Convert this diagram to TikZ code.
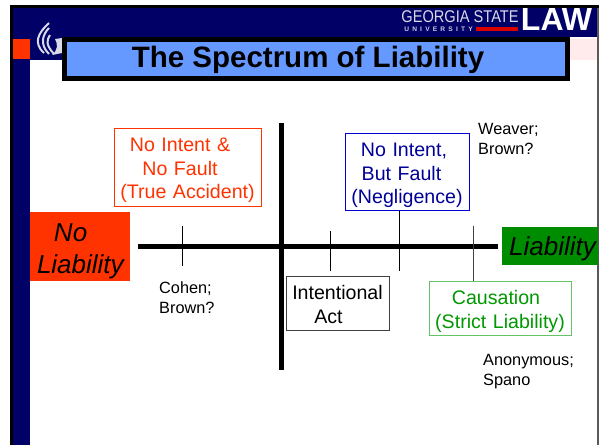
\documentclass[tikz,border=0pt]{standalone}
\usepackage{fontspec}
\setmainfont{Liberation Sans}
\definecolor{slidenavy}{RGB}{0,0,102}
\definecolor{titleblue}{RGB}{102,153,255}
\definecolor{hotorange}{RGB}{255,51,0}
\definecolor{darkgrn}{RGB}{0,153,0}
\definecolor{liabgrn}{RGB}{0,140,0}
\definecolor{negblue}{RGB}{0,0,153}
\tikzset{
  label box/.style={draw=#1,text=#1,line width=0.8pt,align=center,text width=138pt,inner sep=0pt,font=\fontsize{19.6}{23.5}\selectfont},
  case text/.style={align=left,inner sep=0pt,font=\fontsize{16.3}{20}\selectfont},
  end box/.style={fill=#1,inner sep=0pt,align=left,font=\itshape\fontsize{26}{32}\selectfont},
  text low/.style={execute at begin node={\rule{0pt}{#1}}},
  axis line/.style={line width=5pt},
  tick line/.style={line width=0.9pt}
}
\newcommand{\pad}[1]{\rule{#1}{0pt}}
\begin{document}
\begin{tikzpicture}[x=1pt,y=-1pt]
\useasboundingbox (0,0) rectangle (600,445);
\fill [white] (0,0) rectangle (600,445);
% slide frame
\fill [black] (10,5) rectangle (599,8);
\fill [black] (10,5) rectangle (13,445);
\fill [slidenavy] (13,8) rectangle (598,37);
\fill [slidenavy] (13,37) rectangle (30,445);
\fill [slidenavy] (30,37) rectangle (62,60);
\fill [hotorange] (13,39) rectangle (30,59);
\fill [red!8] (569,39) rectangle (597,60);
\draw [black!65,line width=1.2pt] (598,8) -- (598,445);
% flame
\draw [white!85!slidenavy,line width=2pt] (44,53) .. controls (33,43) and (38,33) .. (49,23);
\draw [white!85!slidenavy,line width=2pt] (49,54) .. controls (39,44) and (43,34) .. (49,28);
\draw [white!85!slidenavy,line width=2pt] (54,54) .. controls (45,44) and (47,40) .. (50,35);
\fill [white!85!slidenavy] (55,39) -- (62,38) -- (62,53) -- (52,55) .. controls (58,50) and (58,44) .. (55,39);
% logo
\node [text=white!85!slidenavy,inner sep=0pt,xscale=0.86,font=\fontsize{17}{17}\selectfont] (gsu) at (460,16.5) {GEORGIA STATE};
\node [text=white!80!slidenavy,inner sep=0pt,font=\bfseries\fontsize{6.6}{6.6}\selectfont] (univ) at (438.5,29) {U\hspace{3.2pt}N\hspace{3.2pt}I\hspace{3.2pt}V\hspace{3.2pt}E\hspace{3.2pt}R\hspace{3.2pt}S\hspace{3.2pt}I\hspace{3.2pt}T\hspace{3.2pt}Y};
\fill [red!85!black] (476,27) rectangle (518,31);
\node [text=white,inner sep=0pt,font=\bfseries\fontsize{32}{32}\selectfont] (law) at (556.5,19) {LAW};
% title
\node [draw=black,line width=5pt,fill=titleblue,minimum width=503pt,minimum height=39pt,inner sep=0pt,text low=24pt,font=\bfseries\fontsize{29.5}{29.5}\selectfont] (title) at (315.5,59) {The Spectrum of Liability\hspace*{15pt}};
% ends of the spectrum
\node [end box=hotorange,minimum width=100pt,minimum height=69pt,text width=86pt,text low=28pt] (noliab) at (80,246.5) {\hspace*{17pt}No\\Liability};
\node [end box=liabgrn,minimum width=96pt,minimum height=38pt,text low=25pt] (liab) at (550,246) {\hspace*{5pt}Liability};
% axes
\coordinate (axl) at (138,246.5);
\coordinate (axr) at (498,246.5);
\coordinate (axt) at (281.5,123);
\coordinate (axb) at (281.5,370);
\draw [axis line] (axl) -- (axr);
\draw [axis line] (axt) -- (axb);
% categories
\node [label box=hotorange,minimum width=147pt,minimum height=78pt,text low=21pt] (nofault) at (187.5,167) {No Intent \&\pad{15pt}\\No Fault\pad{15pt}\\(True Accident)};
\node [label box=negblue,draw=blue!60!negblue,minimum width=124pt,minimum height=77pt,text width=118pt,text low=21pt] (neg) at (407,172) {No Intent,\pad{6pt}\\But Fault\pad{11pt}\\(Negligence)};
\node [label box=black,draw=black!75,minimum width=103pt,minimum height=54pt,text width=98pt,text low=17pt] (intent) at (337.5,303) {Intentional\\Act\pad{18pt}};
\node [label box=darkgrn,draw=darkgrn!60,minimum width=142pt,minimum height=54pt,text low=21pt] (strict) at (500,308) {Causation\pad{8pt}\\(Strict Liability)};
% ticks
\coordinate (t1a) at (182.5,226);
\coordinate (t1b) at (182.5,266);
\coordinate (t2a) at (330.5,231);
\coordinate (t2b) at (330.5,271);
\coordinate (t3b) at (399,271);
\coordinate (t4a) at (473,226);
\draw [tick line] (t1a) -- (t1b);
\draw [tick line] (t2a) -- (t2b);
\draw [tick line] (neg.south -| t3b) -- (t3b);
\draw [tick line,black!75] (t4a) -- (strict.north -| t4a);
% cases
\node [case text,anchor=north west] (cohen) at (159,281.5) {Cohen;\\Brown?};
\node [case text,anchor=north west] (weaver) at (478,123) {Weaver;\\Brown?};
\node [case text,anchor=north west] (anon) at (483,354) {Anonymous;\\Spano};
\end{tikzpicture}
\end{document}
